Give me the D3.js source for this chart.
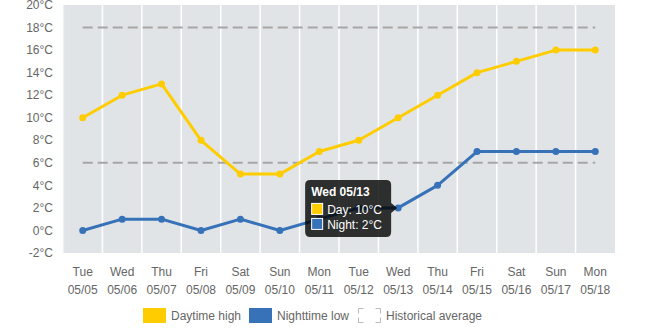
<!DOCTYPE html>
<html>
<head>
<meta charset="utf-8">
<script src="https://cdn.jsdelivr.net/npm/d3@7"></script>
<style>
  html, body { margin: 0; padding: 0; background: #fff; }
  svg { display: block; font-family: "Liberation Sans", Arial, sans-serif; }
</style>
</head>
<body>
<svg id="chart" width="665" height="332"></svg>
<script>
// Two-week forecast: daytime highs, nighttime lows and historical averages
const weekdays = ["Tue","Wed","Thu","Fri","Sat","Sun","Mon","Tue","Wed","Thu","Fri","Sat","Sun","Mon"];
const dates = ["05/05","05/06","05/07","05/08","05/09","05/10","05/11","05/12","05/13","05/14","05/15","05/16","05/17","05/18"];
const dayHigh = [10,12,13,8,5,5,7,8,10,12,14,15,16,16];
const nightLow = [0,1,1,0,1,0,1,2,2,4,7,7,7,7];
const avgHigh = 18;
const avgLow = 6;
const yTicks = [-2,0,2,4,6,8,10,12,14,16,18,20];
const legendLabels = ["Daytime high","Nighttime low","Historical average"];
const tooltipIndex = 8;

const svg = d3.select("#chart");
const plot = { left: 63, right: 615, top: 5, bottom: 253 };
const dayColor = "#ffcc00";
const nightColor = "#3772b8";
const avgColor = "#a6a6a6";

const x = d3.scaleBand().domain(d3.range(dates.length)).range([plot.left, plot.right]);
const y = d3.scaleLinear().domain([-2, 20]).range([plot.bottom, plot.top]);
const cx = i => x(i) + x.bandwidth() / 2;

// plot background
svg.append("rect")
  .attr("x", plot.left).attr("y", plot.top)
  .attr("width", plot.right - plot.left).attr("height", plot.bottom - plot.top)
  .attr("fill", "#e1e4e7");

// vertical separators between days
svg.append("g").selectAll("line")
  .data(d3.range(1, dates.length))
  .join("line")
  .attr("x1", i => x(i)).attr("x2", i => x(i))
  .attr("y1", plot.top).attr("y2", plot.bottom)
  .attr("stroke", "#fff").attr("stroke-width", 1.5);

svg.append("line")
  .attr("x1", plot.left + 0.5).attr("x2", plot.left + 0.5)
  .attr("y1", plot.top).attr("y2", plot.bottom)
  .attr("stroke", "#eef0f2").attr("stroke-width", 1.5);

// y axis labels
svg.append("g").selectAll("text")
  .data(yTicks)
  .join("text")
  .attr("x", 53).attr("y", d => y(d))
  .attr("dy", "0.35em")
  .attr("text-anchor", "end")
  .attr("font-size", 12).attr("fill", "#666")
  .text(d => d + "°C");

// x axis labels (weekday + date)
const xl = svg.append("g").selectAll("g")
  .data(d3.range(dates.length))
  .join("g");
xl.append("text")
  .attr("x", i => cx(i)).attr("y", 276)
  .attr("text-anchor", "middle").attr("font-size", 12).attr("fill", "#666")
  .text(i => weekdays[i]);
xl.append("text")
  .attr("x", i => cx(i)).attr("y", 294)
  .attr("text-anchor", "middle").attr("font-size", 12).attr("fill", "#666")
  .text(i => dates[i]);

// historical averages
[avgHigh, avgLow].forEach(v => {
  svg.append("line")
    .attr("x1", cx(0)).attr("x2", cx(dates.length - 1))
    .attr("y1", y(v)).attr("y2", y(v))
    .attr("stroke", avgColor).attr("stroke-width", 2)
    .attr("stroke-dasharray", "10,5");
});

// series lines and points
function drawSeries(values, color) {
  const line = d3.line().x((d, i) => cx(i)).y(d => y(d));
  svg.append("path")
    .datum(values)
    .attr("d", line)
    .attr("fill", "none").attr("stroke", color).attr("stroke-width", 3)
    .attr("stroke-linejoin", "round");
  svg.append("g").selectAll("circle")
    .data(values)
    .join("circle")
    .attr("cx", (d, i) => cx(i)).attr("cy", d => y(d))
    .attr("r", 3.5).attr("fill", color);
}
drawSeries(dayHigh, dayColor);
drawSeries(nightLow, nightColor);

// tooltip for the highlighted day
const tx = cx(tooltipIndex), ty = y(nightLow[tooltipIndex]);
const tw = 86, th = 57;
const bx = tx - 7 - tw, by = ty - 28;
const tip = svg.append("g");
tip.append("path")
  .attr("d", `M${bx + 5},${by} H${bx + tw - 5} Q${bx + tw},${by} ${bx + tw},${by + 5}
    V${ty - 5} L${tx - 1},${ty} L${bx + tw},${ty + 5}
    V${by + th - 5} Q${bx + tw},${by + th} ${bx + tw - 5},${by + th}
    H${bx + 5} Q${bx},${by + th} ${bx},${by + th - 5}
    V${by + 5} Q${bx},${by} ${bx + 5},${by} Z`)
  .attr("fill", "rgba(0,0,0,0.8)");
tip.append("text")
  .attr("x", bx + 6).attr("y", by + 16)
  .attr("font-size", 12).attr("font-weight", "bold").attr("fill", "#fff")
  .text(weekdays[tooltipIndex] + " " + dates[tooltipIndex]);
[[dayColor, "Day: " + dayHigh[tooltipIndex] + "°C"], [nightColor, "Night: " + nightLow[tooltipIndex] + "°C"]]
  .forEach(([c, t], k) => {
    tip.append("rect")
      .attr("x", bx + 6.5).attr("y", by + 23.5 + k * 15)
      .attr("width", 11).attr("height", 11)
      .attr("fill", c).attr("stroke", "#fff").attr("stroke-width", 1);
    tip.append("text")
      .attr("x", bx + 22).attr("y", by + 34 + k * 15)
      .attr("font-size", 12).attr("fill", "#fff")
      .text(t);
  });

// legend
const legendX = [143, 249, 358];
const legendColors = [dayColor, nightColor, null];
const lg = svg.append("g");
legendLabels.forEach((label, k) => {
  if (legendColors[k]) {
    lg.append("rect")
      .attr("x", legendX[k]).attr("y", 308)
      .attr("width", 23).attr("height", 15)
      .attr("fill", legendColors[k]);
  } else {
    // dashed swatch: only the four corners are drawn
    const x0 = legendX[k] + 0.5, y0 = 308.5, w = 22, h = 14, s = 5;
    const corners = [
      `M${x0},${y0 + s} V${y0} H${x0 + s}`,
      `M${x0 + w - s},${y0} H${x0 + w} V${y0 + s}`,
      `M${x0 + w},${y0 + h - s} V${y0 + h} H${x0 + w - s}`,
      `M${x0 + s},${y0 + h} H${x0} V${y0 + h - s}`
    ];
    lg.append("path")
      .attr("d", corners.join(" "))
      .attr("fill", "none").attr("stroke", "#bbb").attr("stroke-width", 1);
  }
  lg.append("text")
    .attr("x", legendX[k] + 28).attr("y", 320)
    .attr("font-size", 12).attr("fill", "#666")
    .text(label);
});
</script>
</body>
</html>
